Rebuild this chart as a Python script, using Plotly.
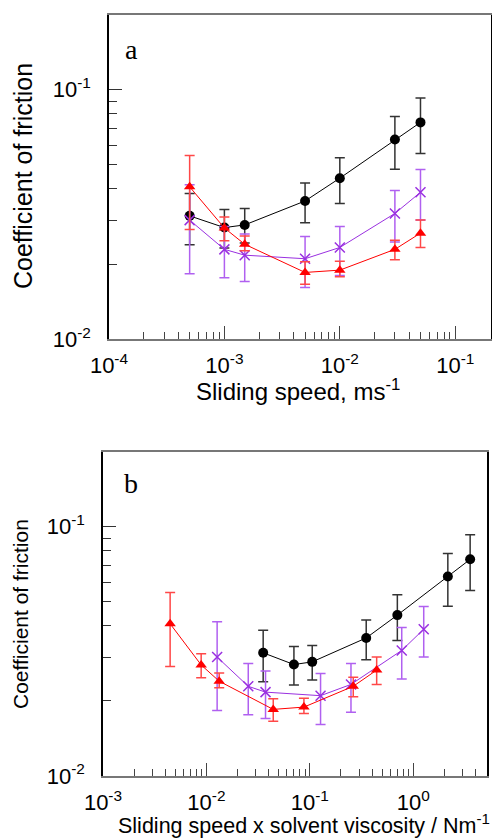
import plotly.graph_objects as go

# ---------------- data ----------------
speed = [5e-4, 1e-3, 1.5e-3, 5e-3, 1e-2, 3e-2, 5e-2]

black_mu = [0.0312, 0.0280, 0.0287, 0.0358, 0.0442, 0.0632, 0.0740]
black_hi = [0.0384, 0.0331, 0.0334, 0.0423, 0.0534, 0.0781, 0.0928]
black_lo = [0.0239, 0.0232, 0.0243, 0.0293, 0.0350, 0.0480, 0.0555]

purple_mu = [0.0300, 0.0229, 0.0217, 0.0210, 0.0233, 0.0319, 0.0388]
purple_hi = [0.0416, 0.0283, 0.0264, 0.0258, 0.0283, 0.0394, 0.0479]
purple_lo = [0.0183, 0.0176, 0.0170, 0.0161, 0.0180, 0.0245, 0.0300]

red_mu = [0.0408, 0.0279, 0.0240, 0.0185, 0.0189, 0.0229, 0.0266]
red_hi = [0.0545, 0.0309, 0.0259, 0.0204, 0.0205, 0.0249, 0.0300]
red_lo = [0.0275, 0.0248, 0.0226, 0.0166, 0.0178, 0.0208, 0.0233]

# panel b: sliding speed x solvent viscosity
black_xb = [0.0354, 0.0702, 0.1055, 0.351, 0.702, 2.16, 3.55]
purple_xb = [0.0127, 0.0254, 0.0373, 0.127, 0.250, 0.774, 1.263]
red_xb = [0.00446, 0.0089, 0.0133, 0.0443, 0.0877, 0.263, 0.443]

xa_ticks = [1e-4, 1e-3, 1e-2, 1e-1]
xa_text = ["10<sup>-4</sup>", "10<sup>-3</sup>", "10<sup>-2</sup>", "10<sup>-1</sup>"]
xb_ticks = [1e-3, 1e-2, 1e-1, 1e0]
xb_text = ["10<sup>-3</sup>", "10<sup>-2</sup>", "10<sup>-1</sup>", "10<sup>0</sup>"]
y_ticks = [0.01, 0.1]
y_text = ["10<sup>-2</sup>", "10<sup>-1</sup>"]
y_minor = [0.02, 0.03, 0.04, 0.05, 0.06, 0.07, 0.08, 0.09]
xa_minor = [2e-4, 3e-4, 4e-4, 5e-4, 6e-4, 7e-4, 8e-4, 9e-4,
            2e-3, 3e-3, 4e-3, 5e-3, 6e-3, 7e-3, 8e-3, 9e-3,
            2e-2, 3e-2, 4e-2, 5e-2, 6e-2, 7e-2, 8e-2, 9e-2]
xb_minor = [2e-3, 3e-3, 4e-3, 5e-3, 6e-3, 7e-3, 8e-3, 9e-3,
            2e-2, 3e-2, 4e-2, 5e-2, 6e-2, 7e-2, 8e-2, 9e-2,
            0.2, 0.3, 0.4, 0.5, 0.6, 0.7, 0.8, 0.9,
            2, 3, 4]

FONT = "Liberation Sans, Arial, sans-serif"
SERIF = "Liberation Serif, Times New Roman, serif"

series = [
    ("black", black_mu, black_hi, black_lo, black_xb,
     dict(symbol="circle", size=10, color="black"), "black", "#333333"),
    ("purple", purple_mu, purple_hi, purple_lo, purple_xb,
     dict(symbol="x-thin", size=10, color="#9a30e0", line=dict(width=1.5, color="#9a30e0")),
     "#9a30e0", "#b060f0"),
    ("red", red_mu, red_hi, red_lo, red_xb,
     dict(symbol="triangle-up", size=10, color="#ff0000"), "#ff0000", "#ff4848"),
]

fig = go.Figure()
for name, mu, hi, lo, xb, mk, lc, ec in series:
    plus = [h - m for h, m in zip(hi, mu)]
    minus = [m - l for m, l in zip(mu, lo)]
    for xs, xa, ya in [(speed, "x", "y"), (xb, "x2", "y2")]:
        fig.add_trace(go.Scatter(
            x=xs, y=mu, mode="lines+markers", name=name, showlegend=False,
            xaxis=xa, yaxis=ya,
            line=dict(color=lc, width=1), marker=mk,
            error_y=dict(type="data", symmetric=False, array=plus, arrayminus=minus,
                         color=ec, thickness=1.5, width=5),
        ))

def xax(domain, anchor, rng, ticks, text, minor):
    return dict(type="log", domain=domain, anchor=anchor, range=rng,
                showline=True, linecolor="#777777", linewidth=2, mirror=True,
                ticks="inside", ticklen=13, tickwidth=1, tickcolor="#444444",
                tickvals=ticks, ticktext=text, showgrid=False, zeroline=False,
                tickfont=dict(family=FONT, size=22, color="black"),
                ticklabelstandoff=6, automargin=False,
                minor=dict(tickvals=minor, ticks="inside", ticklen=7,
                           tickcolor="#444444", tickwidth=1, showgrid=False))

def yax(domain, anchor):
    return dict(type="log", domain=domain, anchor=anchor, range=[-2, -0.7],
                showline=True, linecolor="black", linewidth=1.5, mirror=True,
                ticks="inside", ticklen=13, tickwidth=1, tickcolor="#333333",
                tickvals=y_ticks, ticktext=y_text, showgrid=False, zeroline=False,
                tickfont=dict(family=FONT, size=22, color="black"),
                ticklabelstandoff=12, automargin=False,
                minor=dict(tickvals=y_minor, ticks="inside", ticklen=8,
                           tickcolor="#333333", tickwidth=1, showgrid=False))

fig.update_layout(
    width=492, height=839, autosize=False,
    margin=dict(l=0, r=0, t=0, b=0, pad=0),
    paper_bgcolor="white", plot_bgcolor="white",
    xaxis=xax([0.2215, 0.998], "y", [-4, -0.69], xa_ticks, xa_text, xa_minor),
    yaxis=yax([0.5959, 0.9821], "x"),
    xaxis2=xax([0.2093, 0.9898], "y2", [-3, 0.713], xb_ticks, xb_text, xb_minor),
    yaxis2=yax([0.0751, 0.4613], "x2"),
    annotations=[
        dict(text="a", x=131.5 / 492, y=1 - 50 / 839, xref="paper", yref="paper",
             showarrow=False, xanchor="center", yanchor="middle",
             font=dict(family=SERIF, size=28, color="black")),
        dict(text="b", x=131 / 492, y=1 - 483 / 839, xref="paper", yref="paper",
             showarrow=False, xanchor="center", yanchor="middle",
             font=dict(family=SERIF, size=28, color="black")),
        dict(text="Sliding speed, ms<sup>-1</sup>", x=298 / 492, y=1 - 390 / 839,
             xref="paper", yref="paper", showarrow=False, xanchor="center", yanchor="middle",
             font=dict(family=FONT, size=24, color="black")),
        dict(text="Coefficient of friction", x=23 / 492, y=1 - 176 / 839,
             xref="paper", yref="paper", showarrow=False, textangle=-90,
             xanchor="center", yanchor="middle",
             font=dict(family=FONT, size=25, color="black")),
        dict(text="Sliding speed x solvent viscosity / Nm<sup>-1</sup>", x=304 / 492, y=1 - 824 / 839,
             xref="paper", yref="paper", showarrow=False, xanchor="center", yanchor="middle",
             font=dict(family=FONT, size=21.5, color="black")),
        dict(text="Coefficient of friction", x=20 / 492, y=1 - 614 / 839,
             xref="paper", yref="paper", showarrow=False, textangle=-90,
             xanchor="center", yanchor="middle",
             font=dict(family=FONT, size=21, color="black")),
    ],
)

fig.write_html(
    "out.html",
    config={"displayModeBar": False},
    post_script="document.body.style.margin='0';document.body.style.padding='0';"
                "document.body.style.overflow='hidden';"
                "document.documentElement.style.overflow='hidden';",
)
